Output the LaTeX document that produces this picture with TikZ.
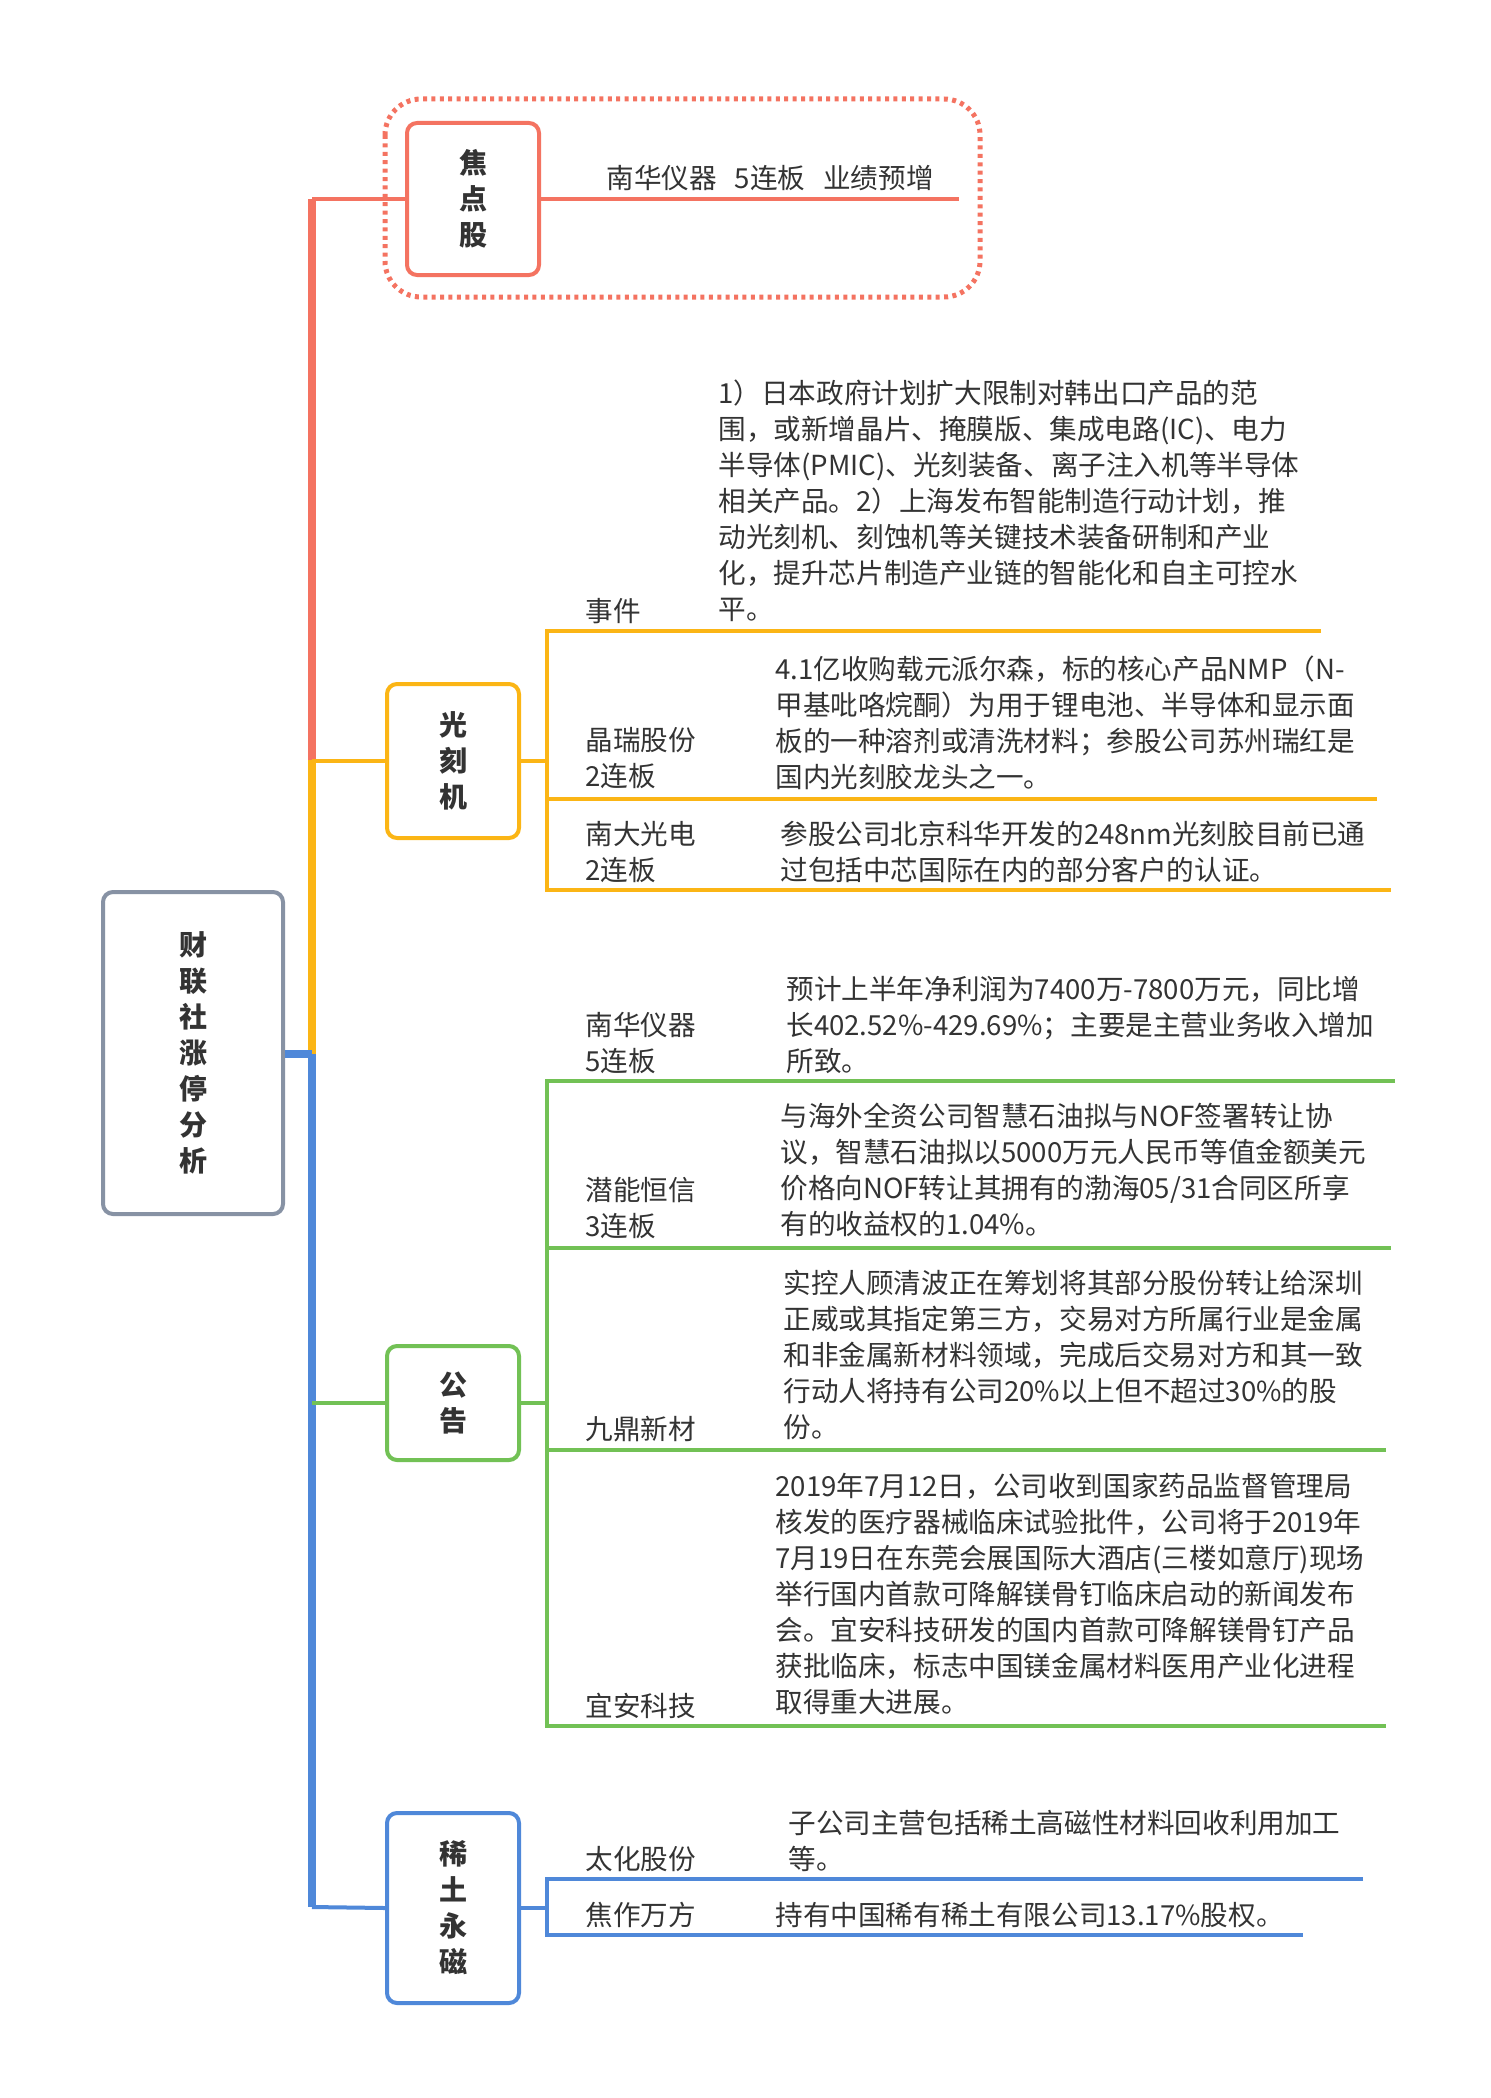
\documentclass[tikz,border=0pt]{standalone}
\usepackage{fontspec}
\setmainfont{Noto Sans CJK SC}
\definecolor{cred}{HTML}{F47361}
\definecolor{corange}{HTML}{FBB515}
\definecolor{cgreen}{HTML}{72C155}
\definecolor{cblue}{HTML}{4F88D9}
\definecolor{cgray}{HTML}{8792A4}
\definecolor{ctext}{HTML}{333333}
\begin{document}
\begin{tikzpicture}[x=0.5pt,y=-0.5pt,
  % vertical boxes
  topic/.style={draw, line width=2pt, rounded corners=5pt, fill=white, font=\fontsize{14}{18}\selectfont\bfseries, text=ctext, align=center, inner sep=0pt},
  % labels and paragraphs
  lbl/.style={anchor=north west, inner sep=0pt, font=\fontsize{13.8}{18}\selectfont, text=ctext, align=left},
  leaf/.style={line width=2pt},
  trunk/.style={line width=4pt}]
\useasboundingbox (0,0) rectangle (1490,2098);
% root
\node[topic, draw=cgray, minimum width=90pt, minimum height=161pt] (root) at (193,1053) {财\\联\\社\\涨\\停\\分\\析};
% trunk
\coordinate (t0) at (312,199);
\coordinate (t1) at (312,760);
\coordinate (t2) at (312,1054);
\coordinate (t3) at (312,1907);
\draw[trunk, cred] (t0) -- (t1);
\draw[trunk, corange] (t1) -- (t2);
\draw[trunk, cblue] (t2) -- (t3);
\draw[trunk, cblue] (root.east |- t2) -- (t2);
% focus stock
\draw[cred, line width=2.5pt, dash pattern=on 2pt off 2.2pt, rounded corners=18pt] (385,99) rectangle (980,297);
\node[topic, draw=cred, minimum width=66pt, minimum height=76pt] (focus) at (473,199) {焦\\点\\股};
\coordinate (f1) at (959,199);
\draw[leaf, cred] (t0) -- (focus.west);
\draw[leaf, cred] (focus.east) -- (f1);
\node[lbl] (ftext) at (606,165) {南华仪器\hspace{9pt}5连板\hspace{9pt}业绩预增};
% lithography
\node[topic, draw=corange, minimum width=66pt, minimum height=77pt] (litho) at (453,761) {光\\刻\\机};
\draw[leaf, corange] (litho.west -| t0) -- (litho.west);
\coordinate (la) at (547,631);
\coordinate (lb) at (547,799);
\coordinate (lc) at (547,890);
\draw[leaf, corange] (litho.east) -- (litho.east -| la);
\draw[leaf, corange] (1321,631) -- (la) -- (lc) -- (1391,890);
\draw[leaf, corange] (lb) -- (1377,799);
\node[lbl] (l1) at (585,598) {事件};
\node[lbl] (l1t) at (718,379) {1）日本政府计划扩大限制对韩出口产品的范\\围，或新增晶片、掩膜版、集成电路(IC)、电力\\半导体(PMIC)、光刻装备、离子注入机等半导体\\相关产品。2）上海发布智能制造行动计划，推\\动光刻机、刻蚀机等关键技术装备研制和产业\\化，提升芯片制造产业链的智能化和自主可控水\\平。};
\node[lbl] (l2) at (585,727) {晶瑞股份\\2连板};
\node[lbl] (l2t) at (775,655) {4.1亿收购载元派尔森，标的核心产品NMP（N-\\甲基吡咯烷酮）为用于锂电池、半导体和显示面\\板的一种溶剂或清洗材料；参股公司苏州瑞红是\\国内光刻胶龙头之一。};
\node[lbl] (l3) at (585,821) {南大光电\\2连板};
\node[lbl] (l3t) at (780,821) {参股公司北京科华开发的248nm光刻胶目前已通\\过包括中芯国际在内的部分客户的认证。};
% announcements
\node[topic, draw=cgreen, minimum width=66pt, minimum height=57pt] (notice) at (453,1403) {公\\告};
\draw[leaf, cgreen] (notice.west -| t0) -- (notice.west);
\coordinate (ga) at (547,1081);
\coordinate (gb) at (547,1248);
\coordinate (gc) at (547,1450);
\coordinate (gd) at (547,1726);
\draw[leaf, cgreen] (notice.east) -- (notice.east -| ga);
\draw[leaf, cgreen] (1395,1081) -- (ga) -- (gd) -- (1386,1726);
\draw[leaf, cgreen] (gb) -- (1391,1248);
\draw[leaf, cgreen] (gc) -- (1386,1450);
\node[lbl] (g1) at (585,1012) {南华仪器\\5连板};
\node[lbl] (g1t) at (786,976) {预计上半年净利润为7400万-7800万元，同比增\\长402.52\%-429.69\%；主要是主营业务收入增加\\所致。};
\node[lbl] (g2) at (585,1177) {潜能恒信\\3连板};
\node[lbl] (g2t) at (780,1103) {与海外全资公司智慧石油拟与NOF签署转让协\\议，智慧石油拟以5000万元人民币等值金额美元\\价格向NOF转让其拥有的渤海05/31合同区所享\\有的收益权的1.04\%。};
\node[lbl] (g3) at (585,1416) {九鼎新材};
\node[lbl] (g3t) at (783,1270) {实控人顾清波正在筹划将其部分股份转让给深圳\\正威或其指定第三方，交易对方所属行业是金属\\和非金属新材料领域，完成后交易对方和其一致\\行动人将持有公司20\%以上但不超过30\%的股\\份。};
\node[lbl] (g4) at (585,1693) {宜安科技};
\node[lbl] (g4t) at (775,1473) {2019年7月12日，公司收到国家药品监督管理局\\核发的医疗器械临床试验批件，公司将于2019年\\7月19日在东莞会展国际大酒店(三楼如意厅)现场\\举行国内首款可降解镁骨钉临床启动的新闻发布\\会。宜安科技研发的国内首款可降解镁骨钉产品\\获批临床，标志中国镁金属材料医用产业化进程\\取得重大进展。};
% rare earth
\node[topic, draw=cblue, minimum width=66pt, minimum height=95pt] (rare) at (453,1908) {稀\\土\\永\\磁};
\draw[leaf, cblue] (t3) -- (rare.west);
\coordinate (ra) at (547,1879);
\coordinate (rb) at (547,1935);
\draw[leaf, cblue] (rare.east) -- (rare.east -| ra);
\draw[leaf, cblue] (1363,1879) -- (ra) -- (rb) -- (1303,1935);
\node[lbl] (r1) at (585,1846) {太化股份};
\node[lbl] (r1t) at (788,1810) {子公司主营包括稀土高磁性材料回收利用加工\\等。};
\node[lbl] (r2) at (585,1902) {焦作万方};
\node[lbl] (r2t) at (775,1902) {持有中国稀有稀土有限公司13.17\%股权。};
\end{tikzpicture}
\end{document}
